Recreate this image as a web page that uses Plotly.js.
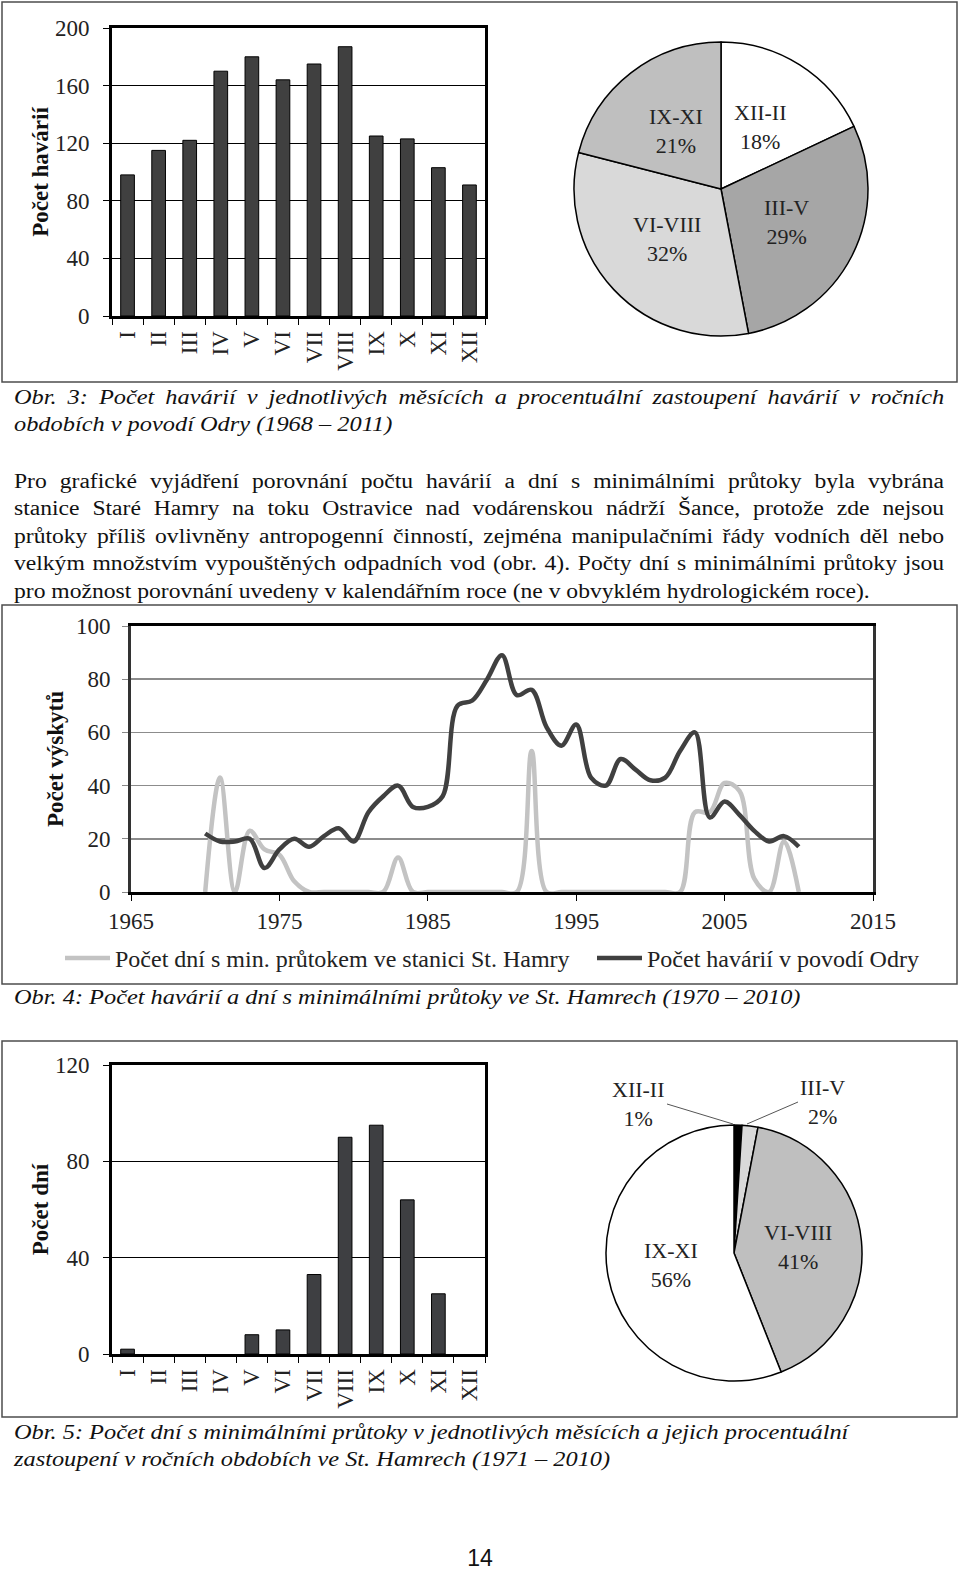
<!DOCTYPE html>
<html>
<head>
<meta charset="utf-8">
<script src="https://cdn.plot.ly/plotly-3.0.1.min.js"></script>
<style>
html,body{margin:0;padding:0;background:#fff;}
#page{position:relative;width:960px;height:1571px;overflow:hidden;background:#fff;}
#chart{position:absolute;left:0;top:0;width:960px;height:1571px;}
.ln{position:absolute;left:14px;height:28px;line-height:28px;font-family:'Liberation Serif','Times New Roman',serif;font-size:20.5px;color:#111;transform:scaleX(1.151);transform-origin:0 50%;white-space:nowrap;}
.it{font-style:italic;transform:scaleX(1.188);}
.just{width:808px;text-align:justify;text-align-last:justify;white-space:normal;overflow:hidden;}
.it.just{width:783px;}
#pageno{position:absolute;left:0;width:960px;text-align:center;top:1545px;font-family:'Liberation Sans',Arial,sans-serif;font-size:23px;color:#111;}
</style>
</head>
<body>
<div id="page">
<div id="chart"></div>
</div>
<script>
// ---------- DATA ----------
const months = ['I','II','III','IV','V','VI','VII','VIII','IX','X','XI','XII'];
const accidentsPerMonth = [98,115,122,170,180,164,175,187,125,123,103,91];
const seasons = ['XII-II','III-V','VI-VIII','IX-XI'];
const accidentSeasonShare = [18,29,32,21];

const years = [1970,1971,1972,1973,1974,1975,1976,1977,1978,1979,1980,1981,1982,1983,1984,1985,1986,1987,1988,1989,1990,
               1991,1992,1993,1994,1995,1996,1997,1998,1999,2000,2001,2002,2003,2004,2005,2006,2007,2008,2009,2010];
const lowFlowDaysPerYear = [0,43,0,23,16,14,4,0,0,0,0,0,0,13,0,0,0,0,0,0,0,
                            0,53,0,0,0,0,0,0,0,0,0,0,30,30,41,38,5,0,19,0];
const accidentsPerYear = [22,19,19,20,9,16,20,17,21,24,19,30,36,40,32,32,36,70,72,80,89,
                          74,76,62,55,63,43,40,50,46,42,43,53,60,28,34,29,23,19,21,17];
const seriesNames = ['Počet dní s min. průtokem ve stanici St. Hamry','Počet havárií v povodí Odry'];

const lowFlowDaysPerMonth = [2,0,0,0,8,10,33,90,95,64,25,0];
const lowFlowSeasonShare = [1,2,41,56];

const yTitles = ['Počet havárií','Počet výskytů','Počet dní'];

const textLines = [
  {t:'Obr. 3: Počet havárií v jednotlivých měsících a procentuální zastoupení havárií v ročních', y:397, it:true, j:true},
  {t:'obdobích v povodí Odry (1968 – 2011)', y:424, it:true, j:false},
  {t:'Pro grafické vyjádření porovnání počtu havárií a dní s minimálními průtoky byla vybrána', y:481, it:false, j:true},
  {t:'stanice Staré Hamry na toku Ostravice nad vodárenskou nádrží Šance, protože zde nejsou', y:508, it:false, j:true},
  {t:'průtoky příliš ovlivněny antropogenní činností, zejména manipulačními řády vodních děl nebo', y:536, it:false, j:true},
  {t:'velkým množstvím vypouštěných odpadních vod (obr. 4). Počty dní s minimálními průtoky jsou', y:563, it:false, j:true},
  {t:'pro možnost porovnání uvedeny v kalendářním roce (ne v obvyklém hydrologickém roce).', y:591, it:false, j:false},
  {t:'Obr. 4: Počet havárií a dní s minimálními průtoky ve St. Hamrech (1970 – 2010)', y:997, it:true, j:false},
  {t:'Obr. 5: Počet dní s minimálními průtoky v jednotlivých měsících a jejich procentuální', y:1432, it:true, j:false},
  {t:'zastoupení v ročních obdobích ve St. Hamrech (1971 – 2010)', y:1459, it:true, j:false}
];
const pageNumber = '14';

// ---------- TEXT ----------
const page = document.getElementById('page');
textLines.forEach(l => {
  const d = document.createElement('div');
  d.className = 'ln' + (l.it ? ' it' : '') + (l.j ? ' just' : '');
  d.style.top = (l.y - 14) + 'px';
  d.textContent = l.t;
  page.appendChild(d);
});
const pn = document.createElement('div');
pn.id = 'pageno'; pn.textContent = pageNumber; page.appendChild(pn);

// ---------- CHART ----------
const W = 960, H = 1571;
const fx = v => v / W;
const fy = v => 1 - v / H;
const FONT = 'Liberation Serif, Times New Roman, serif';
const dark = '#404040';

// pie geometry (pixels): centre and radius
const pie1 = {cx:721, cy:189, r:147};
const pie2 = {cx:734, cy:1253, r:128};
const pieDomain = p => ({x:[fx(p.cx - p.r), fx(p.cx + p.r)], y:[fy(p.cy + p.r), fy(p.cy - p.r)]});

const traces = [
  {type:'bar', x:months, y:accidentsPerMonth, xaxis:'x', yaxis:'y',
   marker:{color:dark, line:{color:'#000', width:1}}, showlegend:false, hoverinfo:'skip'},
  {type:'pie', labels:seasons, values:accidentSeasonShare, sort:false, direction:'clockwise', rotation:0,
   domain:pieDomain(pie1),
   marker:{colors:['#ffffff','#a6a6a6','#d9d9d9','#bfbfbf'], line:{color:'#000', width:1.5}},
   textinfo:'none', showlegend:false, hoverinfo:'skip'},
  {type:'scatter', mode:'lines', x:years, y:lowFlowDaysPerYear, xaxis:'x2', yaxis:'y2', name:seriesNames[0],
   legend:'legend', line:{color:'#c3c3c3', width:4.5, shape:'spline', smoothing:1}, hoverinfo:'skip'},
  {type:'scatter', mode:'lines', x:years, y:accidentsPerYear, xaxis:'x2', yaxis:'y2', name:seriesNames[1],
   legend:'legend2', line:{color:dark, width:4.5, shape:'spline', smoothing:1}, hoverinfo:'skip'},
  {type:'bar', x:months, y:lowFlowDaysPerMonth, xaxis:'x3', yaxis:'y3',
   marker:{color:'#3e3f42', line:{color:'#000', width:lowFlowDaysPerMonth.map(v => v > 0 ? 1 : 0)}},
   showlegend:false, hoverinfo:'skip'},
  {type:'pie', labels:seasons, values:lowFlowSeasonShare, sort:false, direction:'clockwise', rotation:0,
   domain:pieDomain(pie2),
   marker:{colors:['#000000','#d9d9d9','#bfbfbf','#ffffff'], line:{color:'#000', width:1.5}},
   textinfo:'none', showlegend:false, hoverinfo:'skip'}
];

const tickFont = {family:FONT, size:23, color:'#222'};
const titleFont = {family:FONT, size:23, color:'#111'};
const labelFont = {family:FONT, size:22, color:'#222'};

function barX(dom, yname){
  return {domain:dom, anchor:yname, type:'category', tickson:'boundaries', ticks:'outside', ticklen:6,
    tickcolor:'#000', tickwidth:1, tickangle:-90, ticklabelstandoff:3, showline:true, linewidth:3,
    linecolor:'#000', mirror:true, showgrid:false, tickfont:tickFont, fixedrange:true};
}
function barY(dom, xname, range, dtick, title){
  return {domain:dom, anchor:xname, range:range, dtick:dtick, ticks:'outside', ticklen:6, tickcolor:'#000',
    ticklabelstandoff:9, showgrid:true, gridcolor:'#000', gridwidth:1, zeroline:false, showline:true,
    linewidth:3, linecolor:'#000', mirror:true, tickfont:tickFont,
    title:{text:'<b>'+title+'</b>', font:titleFont, standoff:0}, fixedrange:true};
}

// pie labels placed on each slice bisector (computed from the values)
function pieLabels(p, values, labels, frac, minShare){
  const total = values.reduce((a,b) => a + b, 0);
  let cum = 0;
  const out = [];
  values.forEach((v,i) => {
    const a = (cum + v/2) / total * 2 * Math.PI;
    cum += v;
    if (v < minShare) return;
    out.push({xref:'paper', yref:'paper', x:fx(p.cx + frac*p.r*Math.sin(a)), y:fy(p.cy - frac*p.r*Math.cos(a)),
      text: labels[i] + '<br>' + v + '%', showarrow:false, font:labelFont, align:'center',
      xanchor:'center', yanchor:'middle'});
  });
  return out;
}

const annots = [].concat(
  pieLabels(pie1, accidentSeasonShare, seasons, 0.5, 0),
  pieLabels(pie2, lowFlowSeasonShare, seasons, 0.5, 5),
  [
    {x:fx(733), y:fy(1124), ax:-66, ay:-20, xanchor:'right', yanchor:'middle',
     text: seasons[0] + '<br>' + lowFlowSeasonShare[0] + '%'},
    {x:fx(747), y:fy(1124), ax:51, ay:-22, xanchor:'left', yanchor:'middle',
     text: seasons[1] + '<br>' + lowFlowSeasonShare[1] + '%'}
  ].map(a => Object.assign({xref:'paper', yref:'paper', showarrow:true, arrowhead:0, arrowwidth:1,
     arrowcolor:'#555', font:labelFont, align:'center'}, a))
);

const frame = (y0, y1) => ({type:'rect', xref:'paper', yref:'paper', x0:fx(2), x1:fx(957), y0:fy(y1), y1:fy(y0),
  line:{color:'#4d4d4d', width:1.5}, fillcolor:'rgba(0,0,0,0)', layer:'below'});

const legendBase = {orientation:'h', xanchor:'left', yanchor:'top', itemwidth:45,
  font:{family:FONT, size:24, color:'#222'}, bgcolor:'rgba(0,0,0,0)'};

const layout = {
  width:W, height:H, margin:{l:0, r:0, t:0, b:0}, paper_bgcolor:'#fff', plot_bgcolor:'rgba(0,0,0,0)',
  font:{family:FONT, size:23, color:'#222'}, bargap:0.56,
  xaxis: barX([fx(112), fx(485)], 'y'),
  yaxis: barY([fy(316), fy(28)], 'x', [0,200], 40, yTitles[0]),
  xaxis2: {domain:[fx(131), fx(873)], anchor:'y2', range:[1965,2015], tick0:1965, dtick:10, ticks:'outside',
    ticklen:6, tickcolor:'#000', ticklabelstandoff:0, showline:true, linewidth:3, linecolor:'#000', mirror:true,
    showgrid:false, zeroline:false, tickfont:tickFont, fixedrange:true},
  yaxis2: {domain:[fy(892), fy(626)], anchor:'x2', range:[0,100], dtick:20, ticks:'outside', ticklen:6,
    tickcolor:'#888', ticklabelstandoff:7, showgrid:true, gridcolor:'#8c8c8c', gridwidth:1.5, zeroline:false,
    showline:true, linewidth:3, linecolor:'#333', mirror:true, tickfont:tickFont,
    title:{text:'<b>'+yTitles[1]+'</b>', font:titleFont, standoff:6}, fixedrange:true},
  xaxis3: barX([fx(112), fx(485)], 'y3'),
  yaxis3: barY([fy(1354), fy(1065)], 'x3', [0,120], 40, yTitles[2]),
  showlegend:true,
  legend: Object.assign({x:fx(60), y:fy(936)}, legendBase),
  legend2: Object.assign({x:fx(592), y:fy(936)}, legendBase),
  shapes:[frame(2,382), frame(605,984), frame(1041,1417)],
  annotations: annots
};

Plotly.newPlot('chart', traces, layout, {staticPlot:true, displayModeBar:false});
</script>
</body>
</html>
